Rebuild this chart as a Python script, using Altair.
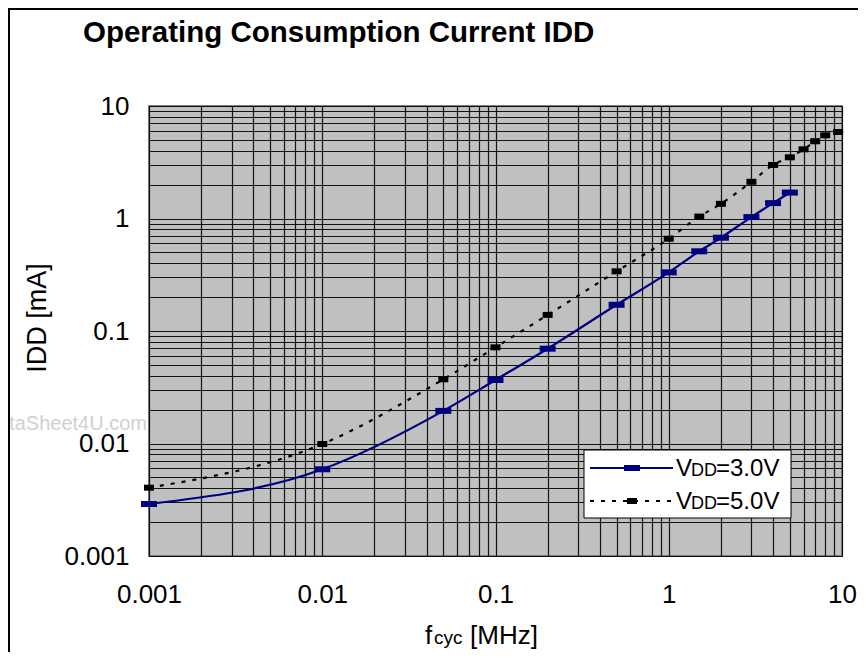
import json
import altair as alt
import pandas as pd

# ---------------- data ----------------
x_tick_labels = ["0.001", "0.01", "0.1", "1", "10"]
y_tick_labels = ["0.001", "0.01", "0.1", "1", "10"]

freq_3v = [0.001, 0.01, 0.05, 0.1, 0.2, 0.5, 1.0, 1.5, 2.0, 3.0, 4.0, 5.0]
idd_3v = [0.0029, 0.0059, 0.0195, 0.0367, 0.0696, 0.171, 0.332, 0.511, 0.675, 1.03, 1.37, 1.70]

freq_5v = [0.001, 0.01, 0.05, 0.1, 0.2, 0.5, 1.0, 1.5, 2.0, 3.0, 4.0, 5.0, 6.0, 7.0, 8.0, 9.5]
idd_5v = [0.00405, 0.0099, 0.0372, 0.0716, 0.139, 0.339, 0.661, 1.04, 1.35, 2.12, 2.99, 3.50, 4.12, 4.86, 5.49, 5.87]

series_names = ["VDD=3.0V", "VDD=5.0V"]

df = pd.DataFrame(
    {
        "f": freq_3v + freq_5v,
        "idd": idd_3v + idd_5v,
        "series": [series_names[0]] * len(freq_3v) + [series_names[1]] * len(freq_5v),
    }
)

grid_vals = [round(m * 10 ** e, 6) for e in range(-3, 1) for m in range(1, 10)] + [10]

FONT = "Liberation Sans"
W, H = 693, 450


def axis(labels):
    return alt.Axis(
        values=grid_vals,
        format="~g",
        labelExpr="indexof(" + json.dumps(labels) + ", datum.label) >= 0 ? datum.label : ''",
        grid=True,
        gridColor="#000000",
        gridWidth=1.2,
        gridOpacity=0.9,
        ticks=False,
        domain=False,
        labelFont=FONT,
        labelFontSize=26,
        labelColor="#000000",
        labelOverlap=False,
        labelBound=False,
        labelFlush=False,
        title=None,
    )


xs = alt.Scale(type="log", domain=[0.001, 10], nice=False)
ys = alt.Scale(type="log", domain=[0.001, 10], nice=False)

base = alt.Chart(df).encode(
    x=alt.X("f:Q", scale=xs, axis=axis(x_tick_labels)),
    y=alt.Y("idd:Q", scale=ys, axis=axis(y_tick_labels)),
)

BLUE = "#000080"
path_blue = "M-1,-0.375H1V0.375H-1Z"
path_black = "M-1,-0.6H1V0.6H-1Z"

line5 = base.transform_filter(alt.datum.series == series_names[1]).mark_line(
    color="#000000", strokeWidth=2.2, strokeDash=[4, 7], interpolate="monotone"
)
line3 = base.transform_filter(alt.datum.series == series_names[0]).mark_line(
    color=BLUE, strokeWidth=2.2, interpolate="monotone"
)
pts5 = base.transform_filter(alt.datum.series == series_names[1]).mark_point(
    shape=path_black, size=100, filled=True, opacity=1, color="#000000", strokeWidth=0
)
pts3 = base.transform_filter(alt.datum.series == series_names[0]).mark_point(
    shape=path_blue, size=256, filled=True, opacity=1, color=BLUE, strokeWidth=0
)

dummy = pd.DataFrame({"d": [0]})


def px(xp):  # page x -> chart x
    return xp - 149


def py(yp):  # page y -> chart y
    return yp - 106


def text(t, x, y, size, **kw):
    return alt.Chart(dummy).mark_text(
        text=t, font=FONT, fontSize=size, align=kw.pop("align", "left"),
        baseline=kw.pop("baseline", "alphabetic"), color=kw.pop("color", "#000000"), **kw
    ).encode(x=alt.value(x), y=alt.value(y))


# frame (left & top)
frame_left = alt.Chart(dummy).mark_rule(color="#000000", strokeWidth=2).encode(
    x=alt.value(-140), y=alt.value(-98), y2=alt.value(546)
)
frame_top = alt.Chart(dummy).mark_rule(color="#000000", strokeWidth=2).encode(
    x=alt.value(-141), x2=alt.value(709), y=alt.value(-97)
)

title = text("Operating Consumption Current IDD", px(83), py(42), 29.5, fontWeight="bold")
ytitle = text("IDD [mA]", px(38), py(318), 27, align="center", baseline="middle", angle=270)
xt1 = text("f", px(425), py(644), 26)
xt2 = text("cyc", px(434), py(644), 19)
xt3 = text("[MHz]", px(470), py(644), 26)
watermark = text("DataSheet4U.com", px(147), py(430), 20, align="right", color="#d0d0d0")

# legend
leg_box = alt.Chart(dummy).mark_rect(fill="#ffffff", stroke="#000000", strokeWidth=1).encode(
    x=alt.value(px(584)), x2=alt.value(px(791)), y=alt.value(py(450)), y2=alt.value(py(518))
)
leg_l1 = alt.Chart(dummy).mark_rule(color=BLUE, strokeWidth=2.2).encode(
    x=alt.value(px(590)), x2=alt.value(px(673)), y=alt.value(py(468))
)
leg_l2 = alt.Chart(dummy).mark_rule(color="#000000", strokeWidth=2.2, strokeDash=[4, 7]).encode(
    x=alt.value(px(590)), x2=alt.value(px(673)), y=alt.value(py(501))
)
leg_p1 = alt.Chart(dummy).mark_point(
    shape=path_blue, size=256, filled=True, opacity=1, color=BLUE, strokeWidth=0
).encode(x=alt.value(px(632)), y=alt.value(py(468)))
leg_p2 = alt.Chart(dummy).mark_point(
    shape=path_black, size=100, filled=True, opacity=1, color="#000000", strokeWidth=0
).encode(x=alt.value(px(632)), y=alt.value(py(501)))

leg_texts = []
for name, yb in zip(series_names, [476, 509]):
    leg_texts.append(text(name[0], px(676), py(yb), 24))
    leg_texts.append(text(name[1:3], px(691), py(yb), 18))
    leg_texts.append(text(name[3:], px(716), py(yb), 24))

chart = (
    alt.layer(
        line5, line3, pts5, pts3,
        leg_box, leg_l1, leg_l2, leg_p1, leg_p2, *leg_texts,
        title, ytitle, xt1, xt2, xt3, watermark, frame_left, frame_top,
    )
    .properties(
        width=W,
        height=H,
        autosize=alt.AutoSizeParams(type="none"),
        padding={"left": 141, "top": 98, "right": 16, "bottom": 96},
        background="#ffffff",
    )
    .configure_view(fill="#c0c0c0", stroke="#808080", strokeWidth=2)
    .configure_axisX(labelPadding=25)
    .configure_axisY(labelPadding=20)
)

chart.save("out.html", embed_options={"renderer": "svg", "actions": False})
